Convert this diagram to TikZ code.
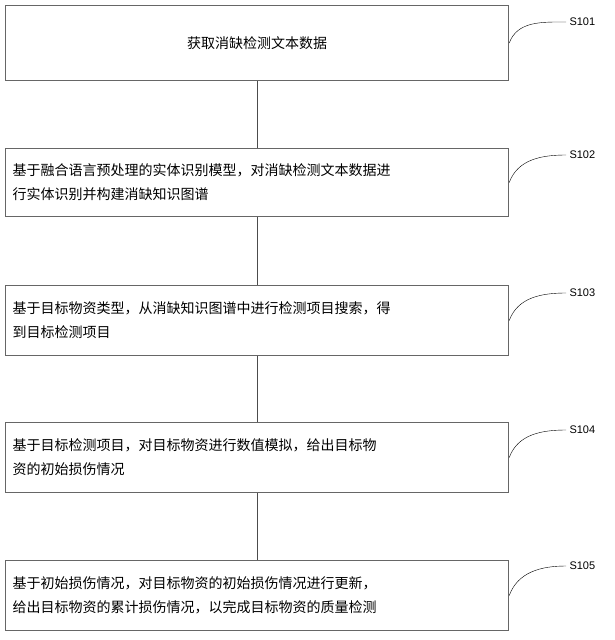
\documentclass[tikz,border=0pt]{standalone}
\usepackage{fontspec}
\setmainfont{Liberation Sans}
\newfontfamily\cjk{Noto Sans CJK SC}
\begin{document}
\begin{tikzpicture}
[
	x=1pt, y=-1pt,
	stepbox/.style={draw=black!60, line width=1.2pt, minimum width=503pt, inner xsep=7pt,
		text width=489pt, align=left, font=\cjk\fontsize{14pt}{24pt}\selectfont, anchor=north west},
	tagline/.style={thin, color=black},
	link/.style={line width=0.8pt, color=black!70}
]

\useasboundingbox (0,0) rectangle (614,640);

% Draw steps
\node[stepbox, minimum height=75pt, align=center] (s1) at (5,5) {获取消缺检测文本数据};
\node[stepbox, minimum height=68pt] (s2) at (5,148) {基于融合语言预处理的实体识别模型，对消缺检测文本数据进\\行实体识别并构建消缺知识图谱};
\node[stepbox, minimum height=70pt] (s3) at (5,285) {基于目标物资类型，从消缺知识图谱中进行检测项目搜索，得\\到目标检测项目};
\node[stepbox, minimum height=70pt] (s4) at (5,422) {基于目标检测项目，对目标物资进行数值模拟，给出目标物\\资的初始损伤情况};
\node[stepbox, minimum height=70pt] (s5) at (5,560) {基于初始损伤情况，对目标物资的初始损伤情况进行更新，\\给出目标物资的累计损伤情况，以完成目标物资的质量检测};

% Draw links
\draw[link] (s1.south) -- (s2.north);
\draw[link] (s2.south) -- (s3.north);
\draw[link] (s3.south) -- (s4.north);
\draw[link] (s4.south) -- (s5.north);

% Draw step tags
\foreach \n/\t/\y in {s1/S101/22, s2/S102/155, s3/S103/293, s4/S104/430, s5/S105/566}
{
	\node[font=\fontsize{11pt}{13pt}\selectfont, anchor=west] (\n tag) at (566,\y) {\t};
	\draw[tagline] (\n.east) to[out=70, in=180] (\n tag.west);
}

\end{tikzpicture}
\end{document}
